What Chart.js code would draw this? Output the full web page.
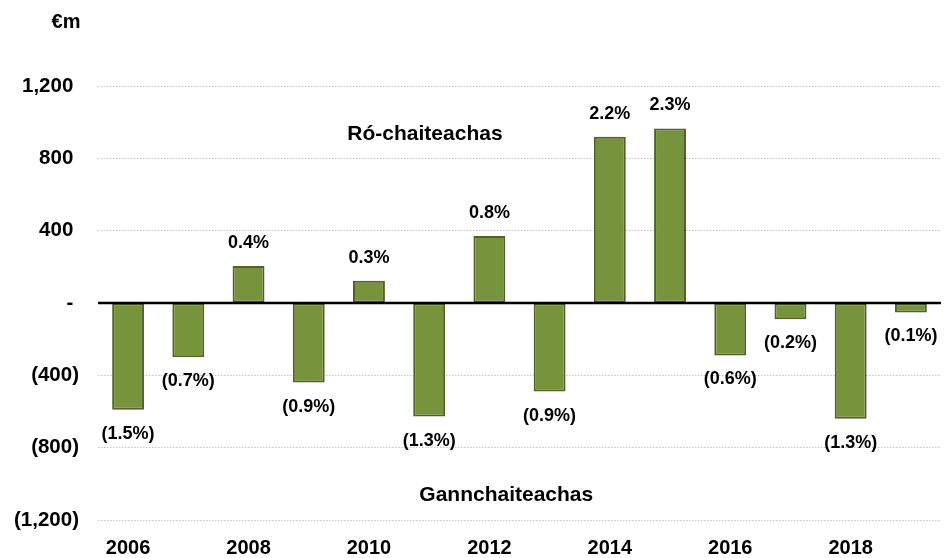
<!DOCTYPE html>
<html>
<head>
<meta charset="utf-8">
<script src="https://cdn.jsdelivr.net/npm/chart.js@4/dist/chart.umd.min.js"></script>
<style>
  html, body { margin: 0; padding: 0; background: #ffffff; }
  #wrap { width: 947px; height: 558px; position: relative; }
</style>
</head>
<body>
<div id="wrap"><canvas id="c" width="947" height="558"></canvas></div>
<script>
const years = ['2006','2007','2008','2009','2010','2011','2012','2013','2014','2015','2016','2017','2018','2019'];
const balance = [-590, -300, 205, -440, 123, -628, 370, -490, 920, 965, -290, -90, -640, -52];
const pctLabels = ['(1.5%)','(0.7%)','0.4%','(0.9%)','0.3%','(1.3%)','0.8%','(0.9%)','2.2%','2.3%','(0.6%)','(0.2%)','(1.3%)','(0.1%)'];
const yTicks = [-1200, -800, -400, 0, 400, 800, 1200];
const unitLabel = '€m';
const upperNote = 'Ró-chaiteachas';
const lowerNote = 'Gannchaiteachas';

const FONT = '"Liberation Sans", Arial, sans-serif';

function fmtTick(v) {
  if (v === 0) return '- ';
  const s = Math.abs(v).toLocaleString('en-US');
  return v < 0 ? '(' + s + ')' : s + ' ';
}

const overlay = {
  id: 'overlay',
  afterDatasetsDraw(chart) {
    const ctx = chart.ctx, xs = chart.scales.x, ys = chart.scales.y;
    const meta = chart.getDatasetMeta(0);
    ctx.save();
    ctx.fillStyle = '#000000';
    ctx.font = 'bold 18px ' + FONT;
    ctx.textAlign = 'center';
    ctx.textBaseline = 'middle';
    meta.data.forEach((bar, i) => {
      const v = balance[i];
      const ly = v >= 0 ? bar.y - 23 : bar.y + 24;
      ctx.fillText(pctLabels[i], bar.x, ly);
    });
    // zero line on top of bars
    const y0 = ys.getPixelForValue(0);
    ctx.strokeStyle = '#000000';
    ctx.lineWidth = 2.5;
    ctx.beginPath();
    ctx.moveTo(chart.chartArea.left, y0);
    ctx.lineTo(chart.chartArea.right, y0);
    ctx.stroke();
    // notes
    ctx.font = 'bold 21px ' + FONT;
    ctx.fillText(upperNote, xs.getPixelForValue(4.93), ys.getPixelForValue(935));
    ctx.fillText(lowerNote, xs.getPixelForValue(6.28), ys.getPixelForValue(-1062));
    // unit
    ctx.font = 'bold 20px ' + FONT;
    ctx.fillText(unitLabel, 66, 22);
    ctx.restore();
  }
};

new Chart(document.getElementById('c'), {
  type: 'bar',
  data: {
    labels: years,
    datasets: [{
      data: balance,
      backgroundColor: '#77933C',
      borderColor: '#4F6228',
      borderWidth: 2,
      borderSkipped: false,
      categoryPercentage: 1.0,
      barPercentage: 0.53
    }]
  },
  options: {
    responsive: false,
    animation: false,
    events: [],
    layout: { padding: { top: 86, left: 0, right: 6, bottom: 0 } },
    plugins: { legend: { display: false }, tooltip: { enabled: false }, title: { display: false } },
    scales: {
      x: {
        grid: { display: false, drawTicks: false },
        border: { display: false },
        afterFit(scale) { scale.height = 38; },
        ticks: {
          autoSkip: false,
          maxRotation: 0,
          padding: 16,
          color: '#000000',
          font: { family: FONT, size: 20, weight: 'bold' },
          callback(v, i) { return i % 2 === 0 ? years[i] : ''; }
        }
      },
      y: {
        min: -1200,
        max: 1200,
        afterFit(scale) { scale.width = 98; },
        afterBuildTicks(scale) { scale.ticks = yTicks.map(v => ({ value: v })); },
        grid: {
          drawTicks: false,
          lineWidth: 1,
          color: ctx => ctx.tick && ctx.tick.value === 0 ? 'rgba(0,0,0,0)' : '#C4C4C4'
        },
        border: { display: false, dash: [1.5, 1.5] },
        ticks: {
          padding: 19,
          color: '#000000',
          font: { family: FONT, size: 20.5, weight: 'bold' },
          callback: v => fmtTick(v)
        }
      }
    }
  },
  plugins: [overlay]
});
</script>
</body>
</html>
